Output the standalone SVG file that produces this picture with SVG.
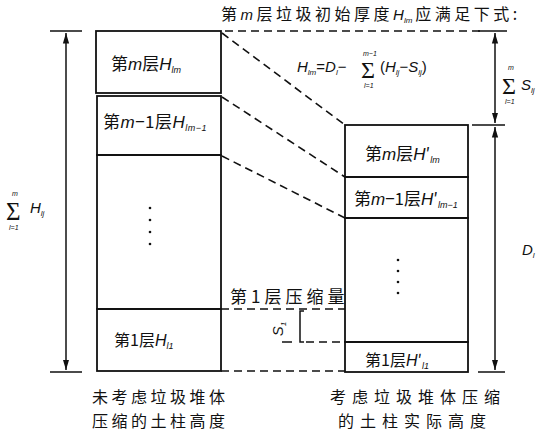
<svg xmlns="http://www.w3.org/2000/svg" width="541" height="433" viewBox="0 0 541 433">
<style>
.box{fill:none;stroke:#111;stroke-width:1.8}
.dash{fill:none;stroke:#111;stroke-width:1.6;stroke-dasharray:8,5}
.dim{fill:none;stroke:#111;stroke-width:1.5}
.t{font-family:"Liberation Serif","Noto Sans CJK SC",serif;fill:#111}
.i{font-family:"Liberation Sans",sans-serif;font-style:italic;fill:#111}
.cn{font-family:"Noto Sans CJK SC",sans-serif;fill:#111}
.dot{fill:#111}
</style>
<defs>
<marker id="ar" viewBox="0 0 10 10" refX="10" refY="5" markerWidth="7" markerHeight="7" orient="auto-start-reverse"><path d="M0,2 L10,5 L0,8 Z" fill="#111"/></marker>
</defs>
<rect width="541" height="433" fill="#fff"/>

<g id="title">
<text x="221" y="20" class="cn" font-size="16" letter-spacing="3.5">第<tspan class="i" font-size="15">m</tspan>层垃圾初始厚度<tspan class="i" font-size="15" letter-spacing="0">H</tspan><tspan class="i" font-size="8" dy="3" letter-spacing="0">lm</tspan><tspan dy="-3" dx="3">应满足下式:</tspan></text>
</g>

<g id="formula">
<text x="297" y="72" class="i" font-size="15">H<tspan font-size="8" dy="3">lm</tspan><tspan dy="-3" font-style="normal">=</tspan>D<tspan font-size="8" dy="3">l</tspan><tspan dy="-3" font-style="normal">−</tspan></text>
<text x="361" y="78" class="t" font-size="24">Σ</text>
<text x="363" y="56" class="i" font-size="7">m−1</text>
<text x="364" y="88" class="i" font-size="7">l=1</text>
<text x="380" y="72" class="i" font-size="15"><tspan font-style="normal">(</tspan>H<tspan font-size="8" dy="3">lj</tspan><tspan dy="-3" font-style="normal">−</tspan>S<tspan font-size="8" dy="3">lj</tspan><tspan dy="-3" font-style="normal">)</tspan></text>
</g>

<g id="left-column">
<rect class="box" x="96" y="31" width="125" height="62"/>
<rect class="box" x="97" y="96" width="124" height="59"/>
<rect class="box" x="97" y="155" width="124" height="154"/>
<rect class="box" x="97" y="309" width="124" height="62"/>
<text x="111" y="70" class="cn" font-size="17">第<tspan class="i">m</tspan>层<tspan class="i">H</tspan><tspan class="i" font-size="9" dy="3">lm</tspan></text>
<text x="103" y="128" class="cn" font-size="17" letter-spacing="0.5">第<tspan class="i">m</tspan>−1层<tspan class="i">H</tspan><tspan class="i" font-size="9" dy="3">lm−1</tspan></text>
<circle class="dot" cx="150" cy="208" r="1.3"/>
<circle class="dot" cx="150" cy="220" r="1.3"/>
<circle class="dot" cx="150" cy="232" r="1.3"/>
<circle class="dot" cx="150" cy="244" r="1.3"/>
<text x="114" y="346" class="cn" font-size="16">第1层<tspan class="i">H</tspan><tspan class="i" font-size="9" dy="3">l1</tspan></text>
</g>

<g id="right-column">
<rect class="box" x="345" y="125" width="123" height="52"/>
<rect class="box" x="345" y="177" width="123" height="41"/>
<rect class="box" x="345" y="218" width="123" height="124"/>
<rect class="box" x="345" y="342" width="123" height="30"/>
<text x="365" y="160" class="cn" font-size="17">第<tspan class="i">m</tspan>层<tspan class="i">H</tspan>′<tspan class="i" font-size="9" dy="3">lm</tspan></text>
<text x="354" y="205" class="cn" font-size="17">第<tspan class="i">m</tspan>−1层<tspan class="i">H</tspan>′<tspan class="i" font-size="9" dy="3">lm−1</tspan></text>
<circle class="dot" cx="398" cy="260" r="1.3"/>
<circle class="dot" cx="398" cy="271" r="1.3"/>
<circle class="dot" cx="398" cy="282" r="1.3"/>
<circle class="dot" cx="398" cy="293" r="1.3"/>
<text x="365" y="366" class="cn" font-size="16">第1层<tspan class="i">H</tspan>′<tspan class="i" font-size="9" dy="3">l1</tspan></text>
</g>

<g id="compression">
<text x="230" y="303" class="cn" font-size="17" letter-spacing="4">第1层压缩量</text>
<path class="dim" d="M304,311 L300,311 L300,342 L304,342"/>
<path class="dim" d="M282,342 L292,342"/>
<text transform="translate(283,329) rotate(-90)" class="i" font-size="15" text-anchor="middle">S<tspan font-size="8" dy="3">1</tspan></text>
</g>

<g id="connectors">
<path class="dash" d="M225,31 L480,31"/>
<path class="dash" d="M222,33 L345,125"/>
<path class="dash" d="M222,97 L345,177"/>
<path class="dash" d="M222,156 L345,218"/>
<path class="dash" d="M221,309 L345,309"/>
<path class="dash" d="M306,342 L345,342"/>
<path class="dash" d="M221,371 L345,371"/>
</g>

<g id="dimensions">
<path class="dim" d="M50,31 L82,31 M50,372 L82,372"/>
<path class="dim" d="M66,33 L66,370" marker-start="url(#ar)" marker-end="url(#ar)"/>
<path class="dim" d="M478,31 L507,31 M472,125 L505,125 M478,372 L505,372"/>
<path class="dim" d="M495,33 L495,123" marker-start="url(#ar)" marker-end="url(#ar)"/>
<path class="dim" d="M495,127 L495,370" marker-start="url(#ar)" marker-end="url(#ar)"/>
<text x="6" y="220" class="t" font-size="25">Σ</text>
<text x="12" y="196" class="i" font-size="7">m</text>
<text x="9" y="230" class="i" font-size="7">l=1</text>
<text x="30" y="213" class="i" font-size="15">H<tspan font-size="8" dy="3">lj</tspan></text>
<text x="502" y="94" class="t" font-size="24">Σ</text>
<text x="508" y="70" class="i" font-size="7">m</text>
<text x="505" y="104" class="i" font-size="7">l=1</text>
<text x="521" y="90" class="i" font-size="15">S<tspan font-size="8" dy="3">lj</tspan></text>
<text x="522" y="255" class="i" font-size="15">D<tspan font-size="8" dy="3">l</tspan></text>
</g>

<g id="captions">
<text class="cn" font-size="16" letter-spacing="3.5"><tspan x="92" y="403">未考虑垃圾堆体</tspan><tspan x="92" y="427">压缩的土柱高度</tspan></text>
<text class="cn" font-size="16" letter-spacing="6"><tspan x="330" y="403">考虑垃圾堆体压缩</tspan><tspan x="338" y="427">的土柱实际高度</tspan></text>
</g>
</svg>
